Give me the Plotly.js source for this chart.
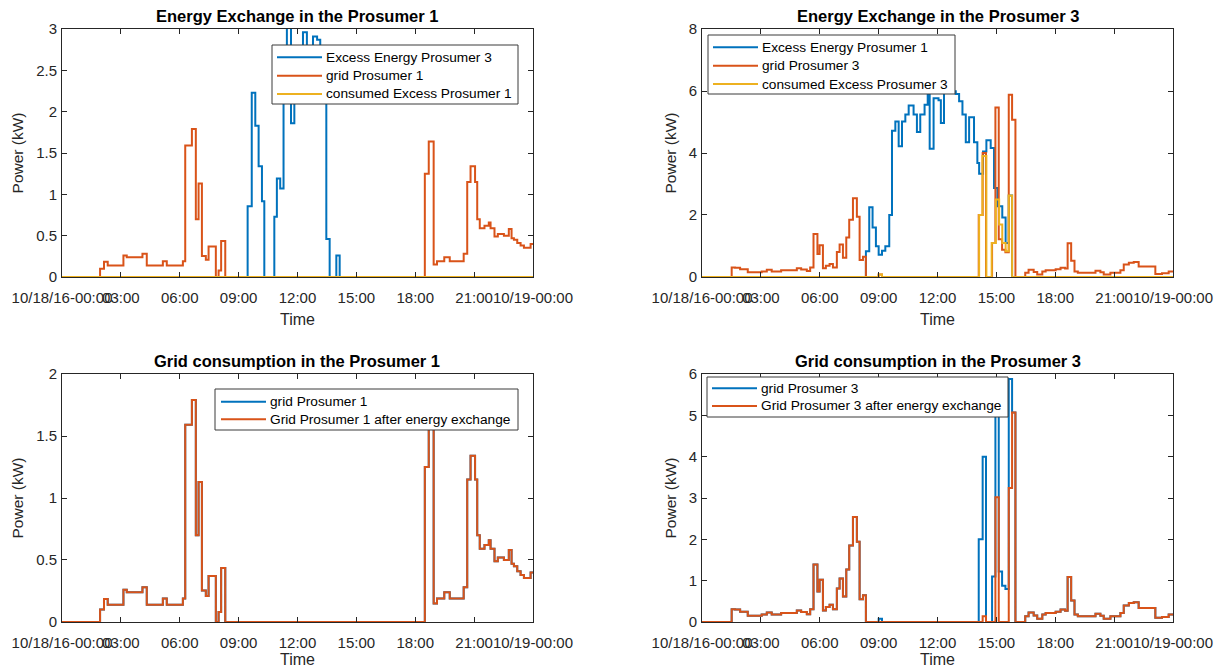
<!DOCTYPE html>
<html><head><meta charset="utf-8">
<script src="https://cdn.plot.ly/plotly-3.0.1.min.js"></script>
<style>html,body{margin:0;padding:0;background:#fff;} #chart{width:1222px;height:668px;}</style>
</head><body><div id="chart"></div>
<script>
// ---------- axis ticks ----------
const hourTicks = [0, 3, 6, 9, 12, 15, 18, 21, 24];
const hourLabels = ['10/18/16-00:00', '03:00', '06:00', '09:00', '12:00', '15:00', '18:00', '21:00', '10/19-00:00'];

// ---------- Prosumer 1 ----------
// grid Prosumer 1 (kW), step starts in hours
const g1Time = [0,1.94,2.14,2.33,3.13,3.3,4.1,4.32,5.14,5.34,6.16,6.28,6.62,6.82,6.96,7.13,7.33,7.47,7.84,7.98,8.11,8.32,18.49,18.69,18.94,19.11,19.48,19.76,20.47,20.65,20.82,21.05,21.16,21.29,21.53,21.75,21.84,22.04,22.21,22.52,22.77,22.91,23.03,23.2,23.37,23.54,23.88,24];
const g1Power = [0,0.1,0.185,0.14,0.26,0.24,0.28,0.14,0.19,0.14,0.19,1.59,1.79,0.7,1.13,0.255,0.21,0.37,0,0.08,0.435,0,1.25,1.64,0.15,0.19,0.24,0.19,0.28,1.15,1.34,1.15,0.7,0.59,0.62,0.66,0.59,0.49,0.52,0.5,0.58,0.47,0.45,0.41,0.38,0.355,0.4,0.4];
// grid Prosumer 1 after energy exchange (identical: nothing consumed)
const g1AfterTime = g1Time;
const g1AfterPower = g1Power;
// Excess Energy Prosumer 3
const e3Time = [0,9.46,9.67,9.85,10.02,10.19,10.31,10.82,10.95,11.12,11.29,11.46,11.67,11.84,12.28,12.48,12.79,13.0,13.16,13.47,13.64,13.98,14.15,24];
const e3Power = [0,0.855,2.23,1.83,1.34,0.915,0,0.73,1.19,1.07,2.5,3.4,1.86,2.5,2.96,2.5,2.91,2.87,2.5,0.46,0,0.26,0,0];
// consumed Excess Prosumer 1
const c1Time = [0, 24];
const c1Power = [0, 0];

// ---------- Prosumer 3 ----------
// Excess Energy Prosumer 1
const e1Time = [0,8.35,8.52,8.69,8.86,9.0,9.17,9.34,9.54,9.68,9.85,10.02,10.19,10.36,10.53,10.78,10.95,11.12,11.34,11.5,11.6,11.8,12.05,12.17,12.33,12.63,12.93,13.1,13.27,13.44,13.61,13.86,14.03,14.12,14.32,14.49,14.71,14.88,15.05,15.3,15.47,15.63,15.8,24];
const e1Power = [0,0.83,2.25,1.6,0.99,0.72,0.85,0.99,2.0,4.72,5.02,4.22,5.02,5.24,5.53,5.24,4.68,5.24,5.56,6.05,4.14,5.77,5.7,4.97,6.05,5.99,5.9,5.67,5.24,4.35,5.15,4.35,3.68,3.33,4.05,4.41,4.16,2.87,2.28,1.92,1.1,2.63,0,0];
// grid Prosumer 3
const g3Time = [0,1.51,1.68,1.94,2.33,3.04,3.3,3.55,4.03,4.83,5.05,5.34,5.51,5.68,5.88,5.99,6.16,6.31,6.5,6.67,6.87,7.01,7.18,7.35,7.5,7.69,7.89,8.03,8.2,8.35,9.0,9.17,14.1,14.3,14.47,14.78,14.95,15.12,15.29,15.46,15.63,15.8,15.97,16.47,16.64,16.9,17.08,17.34,17.51,18.02,18.27,18.5,18.63,18.81,18.98,19.15,20.05,20.3,20.47,20.81,21.32,21.49,21.75,22.0,22.25,23.1,23.44,23.78,24];
const g3Power = [0,0.31,0.3,0.25,0.15,0.18,0.23,0.18,0.22,0.28,0.24,0.19,0.31,1.39,0.74,1.02,0.28,0.36,0.42,0.31,0.81,1.05,0.62,1.27,1.85,2.54,1.94,0.55,0.65,0,0.08,0,2.0,4.0,0,1.1,5.47,1.22,0.88,0.8,5.88,5.07,0,0.14,0.23,0.16,0.08,0.18,0.22,0.25,0.3,0.27,1.09,0.52,0.18,0.14,0.2,0.15,0.08,0.14,0.22,0.4,0.46,0.48,0.34,0.1,0.12,0.18,0.18];
// Grid Prosumer 3 after energy exchange
const a3Time = [0,1.51,1.68,1.94,2.33,3.04,3.3,3.55,4.03,4.83,5.05,5.34,5.51,5.68,5.88,5.99,6.16,6.31,6.5,6.67,6.87,7.01,7.18,7.35,7.5,7.69,7.89,8.03,8.2,8.35,14.3,14.47,14.95,15.12,15.63,15.8,15.97,16.47,16.64,16.9,17.08,17.34,17.51,18.02,18.27,18.5,18.63,18.81,18.98,19.15,20.05,20.3,20.47,20.81,21.32,21.49,21.75,22.0,22.25,23.1,23.44,23.78,24];
const a3Power = [0,0.31,0.3,0.25,0.15,0.18,0.23,0.18,0.22,0.28,0.24,0.19,0.31,1.39,0.74,1.02,0.28,0.36,0.42,0.31,0.81,1.05,0.62,1.27,1.85,2.54,1.94,0.55,0.65,0,0.14,0,3.02,0,3.24,5.07,0,0.14,0.23,0.16,0.08,0.18,0.22,0.25,0.3,0.27,1.09,0.52,0.18,0.14,0.2,0.15,0.08,0.14,0.22,0.4,0.46,0.48,0.34,0.1,0.12,0.18,0.18];
// consumed Excess Prosumer 3
const c3Time = [0,9.0,9.17,14.12,14.29,14.49,14.76,14.97,15.14,15.3,15.47,15.63,15.8,24];
const c3Power = [0,0.08,0,2.0,3.9,0,1.1,2.5,1.69,1.1,0.83,2.63,0,0];

// ---------- legend labels ----------
const legend1Names = ['Excess Energy Prosumer 3', 'grid Prosumer 1', 'consumed Excess Prosumer 1'];
const legend2Names = ['Excess Energy Prosumer 1', 'grid Prosumer 3', 'consumed Excess Prosumer 3'];
const legend3Names = ['grid Prosumer 1', 'Grid Prosumer 1 after energy exchange'];
const legend4Names = ['grid Prosumer 3', 'Grid Prosumer 3 after energy exchange'];

// ---------- styling ----------
const FONT = 'Liberation Sans, Arial, Helvetica, sans-serif';
const BLUE = '#0072BD', ORANGE = '#D95319', YELLOW = '#EDB120';
const AXC = '#262626';

function stairs(x, y, name, color, xa, ya) {
  return {type: 'scatter', mode: 'lines', x: x, y: y, name: name,
    line: {color: color, width: 2, shape: 'hv'}, xaxis: xa, yaxis: ya,
    showlegend: false, hoverinfo: 'skip'};
}

const traces = [
  stairs(e3Time, e3Power, legend1Names[0], BLUE, 'x', 'y'),
  stairs(g1Time, g1Power, legend1Names[1], ORANGE, 'x', 'y'),
  stairs(c1Time, c1Power, legend1Names[2], YELLOW, 'x', 'y'),
  stairs(e1Time, e1Power, legend2Names[0], BLUE, 'x2', 'y2'),
  stairs(g3Time, g3Power, legend2Names[1], ORANGE, 'x2', 'y2'),
  stairs(c3Time, c3Power, legend2Names[2], YELLOW, 'x2', 'y2'),
  stairs(g1Time, g1Power, legend3Names[0], BLUE, 'x3', 'y3'),
  stairs(g1AfterTime, g1AfterPower, legend3Names[1], ORANGE, 'x3', 'y3'),
  stairs(g3Time, g3Power, legend4Names[0], BLUE, 'x4', 'y4'),
  stairs(a3Time, a3Power, legend4Names[1], ORANGE, 'x4', 'y4')
];

const common = {
  showline: true, linecolor: AXC, linewidth: 1, mirror: 'ticks',
  ticks: 'inside', ticklen: 5, tickwidth: 1, tickcolor: AXC,
  showgrid: false, zeroline: false, fixedrange: true,
  tickfont: {family: FONT, size: 15, color: AXC}, ticklabeloverflow: 'allow'
};
function xAx(domain, anchor) {
  return Object.assign({}, common, {domain: domain, anchor: anchor, range: [0, 24],
    tickmode: 'array', tickvals: hourTicks, ticktext: hourLabels, tickangle: 0,
    ticklabelstandoff: 7,
    title: {text: 'Time', font: {family: FONT, size: 16, color: AXC}, standoff: 8}});
}
function yAx(domain, anchor, top, step) {
  return Object.assign({}, common, {domain: domain, anchor: anchor, range: [0, top],
    tickmode: 'linear', tick0: 0, dtick: step, ticklabelstandoff: 1,
    title: {text: 'Power (kW)', font: {family: FONT, size: 15.5, color: AXC}, standoff: 8}});
}
const L = [0, 0.4239], R = [0.5761, 1], T = [0.5818, 1], B = [0, 0.4182];
function ttl(text, x, y) {
  return {text: '<b>' + text + '</b>', xref: 'paper', yref: 'paper', x: x, y: y,
    xanchor: 'center', yanchor: 'bottom', showarrow: false, yshift: 2,
    font: {family: FONT, size: 16.5, color: '#000'}};
}

// MATLAB-style legend boxes, placed in pixels of the figure
function px(v) { return (v - 62) / 1111; }
function py(v) { return (622 - v) / 593; }
const shapes = [], annotations = [
  ttl('Energy Exchange in the Prosumer 1', 0.21195, 1),
  ttl('Energy Exchange in the Prosumer 3', 0.78805, 1),
  ttl('Grid consumption in the Prosumer 1', 0.21195, 0.4182),
  ttl('Grid consumption in the Prosumer 3', 0.78805, 0.4182)
];
function addLegend(box, rows, sx0, sx1, tx, names, colors) {
  shapes.push({type: 'rect', xref: 'paper', yref: 'paper',
    x0: px(box[0]), x1: px(box[1]), y0: py(box[3]), y1: py(box[2]),
    fillcolor: '#ffffff', line: {color: '#3a3a3a', width: 1}, layer: 'above'});
  names.forEach(function (n, i) {
    shapes.push({type: 'line', xref: 'paper', yref: 'paper',
      x0: px(sx0), x1: px(sx1), y0: py(rows[i]), y1: py(rows[i]),
      line: {color: colors[i], width: 2}, layer: 'above'});
    annotations.push({text: n, xref: 'paper', yref: 'paper', x: px(tx), y: py(rows[i]),
      xanchor: 'left', yanchor: 'middle', showarrow: false, xshift: -2,
      font: {family: FONT, size: 13.7, color: '#000'}});
  });
}
addLegend([272, 518, 45, 104], [57.3, 75.7, 94], 277, 322, 326, legend1Names, [BLUE, ORANGE, YELLOW]);
addLegend([708, 955, 35, 94], [47.3, 65.7, 84], 713, 758, 762, legend2Names, [BLUE, ORANGE, YELLOW]);
addLegend([215, 518, 389, 430], [401.7, 419.3], 221, 266, 270, legend3Names, [BLUE, ORANGE]);
addLegend([707, 1008, 377, 417], [388.3, 406], 712, 757, 761, legend4Names, [BLUE, ORANGE]);

const layout = {
  width: 1222, height: 668,
  margin: {l: 62, r: 49, t: 29, b: 46},
  paper_bgcolor: '#fff', plot_bgcolor: '#fff',
  showlegend: false,
  xaxis: xAx(L, 'y'), yaxis: yAx(T, 'x', 3, 0.5),
  xaxis2: xAx(R, 'y2'), yaxis2: yAx(T, 'x2', 8, 2),
  xaxis3: xAx(L, 'y3'), yaxis3: yAx(B, 'x3', 2, 0.5),
  xaxis4: xAx(R, 'y4'), yaxis4: yAx(B, 'x4', 6, 1),
  shapes: shapes,
  annotations: annotations
};

Plotly.newPlot('chart', traces, layout, {displayModeBar: false, staticPlot: true});
</script>
</body></html>
